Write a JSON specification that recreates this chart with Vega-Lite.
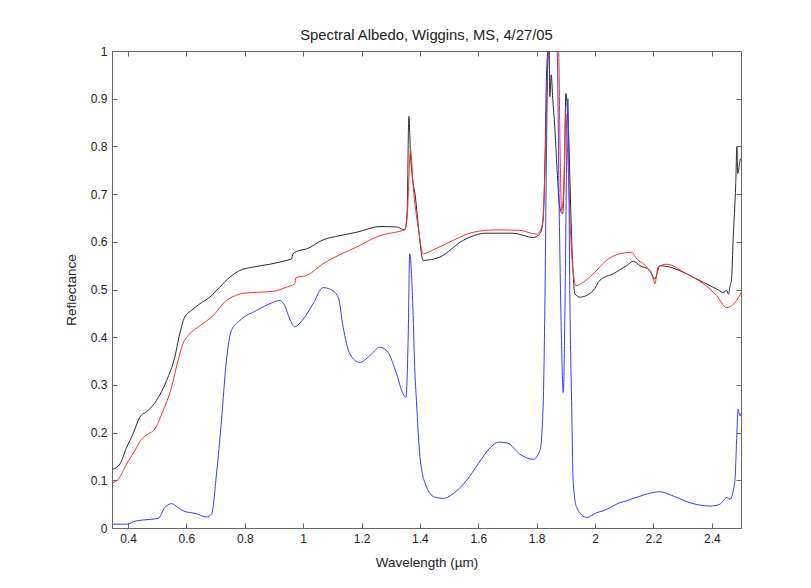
{
  "$schema": "https://vega.github.io/schema/vega-lite/v6.json",
  "width": 629,
  "height": 477,
  "autosize": {"type": "none"},
  "padding": {"left": 112, "top": 51, "right": 70, "bottom": 60},
  "background": "white",
  "title": {"text": "Spectral Albedo, Wiggins, MS, 4/27/05", "font": "Liberation Sans", "fontSize": 14.8, "fontWeight": "normal", "color": "#222", "offset": 2},
  "config": {
    "view": {"stroke": null},
    "axis": {"domainColor": "#666", "tickColor": "#666", "labelFont": "Liberation Sans", "labelFontSize": 12, "labelColor": "#222", "titleFont": "Liberation Sans", "titleFontSize": 13.5, "titleFontWeight": "normal", "titleColor": "#222", "grid": false, "tickSize": -5, "labelPadding": 10}
  },
  "data": {"values": [
    {"s":"k","w":0.347,"r":0.123},{"s":"k","w":0.372,"r":0.134},{"s":"k","w":0.395,"r":0.169},{"s":"k","w":0.417,"r":0.197},{"s":"k","w":0.44,"r":0.232},{"s":"k","w":0.468,"r":0.246},{"s":"k","w":0.497,"r":0.267},{"s":"k","w":0.532,"r":0.309},{"s":"k","w":0.56,"r":0.358},{"s":"k","w":0.577,"r":0.407},{"s":"k","w":0.594,"r":0.442},{"s":"k","w":0.617,"r":0.456},{"s":"k","w":0.646,"r":0.47},{"s":"k","w":0.68,"r":0.484},{"s":"k","w":0.714,"r":0.505},{"s":"k","w":0.749,"r":0.526},{"s":"k","w":0.783,"r":0.54},{"s":"k","w":0.828,"r":0.547},{"s":"k","w":0.886,"r":0.553},{"s":"k","w":0.943,"r":0.561},{"s":"k","w":0.96,"r":0.564},{"s":"k","w":0.965,"r":0.575},{"s":"k","w":0.988,"r":0.582},{"s":"k","w":1.011,"r":0.585},{"s":"k","w":1.068,"r":0.604},{"s":"k","w":1.126,"r":0.613},{"s":"k","w":1.183,"r":0.62},{"s":"k","w":1.263,"r":0.632},{"s":"k","w":1.32,"r":0.631},{"s":"k","w":1.348,"r":0.625},{"s":"k","w":1.356,"r":0.66},{"s":"k","w":1.362,"r":0.863},{"s":"k","w":1.368,"r":0.78},{"s":"k","w":1.377,"r":0.722},{"s":"k","w":1.383,"r":0.701},{"s":"k","w":1.395,"r":0.63},{"s":"k","w":1.411,"r":0.561},{"s":"k","w":1.43,"r":0.562},{"s":"k","w":1.468,"r":0.568},{"s":"k","w":1.548,"r":0.603},{"s":"k","w":1.628,"r":0.618},{"s":"k","w":1.719,"r":0.618},{"s":"k","w":1.788,"r":0.609},{"s":"k","w":1.811,"r":0.617},{"s":"k","w":1.822,"r":0.645},{"s":"k","w":1.828,"r":0.757},{"s":"k","w":1.834,"r":0.954},{"s":"k","w":1.839,"r":1.0},{"s":"k","w":1.843,"r":1.0},{"s":"k","w":1.845,"r":0.904},{"s":"k","w":1.85,"r":0.95},{"s":"k","w":1.855,"r":0.9},{"s":"k","w":1.862,"r":0.841},{"s":"k","w":1.87,"r":0.75},{"s":"k","w":1.879,"r":0.673},{"s":"k","w":1.889,"r":0.659},{"s":"k","w":1.895,"r":0.75},{"s":"k","w":1.9,"r":0.911},{"s":"k","w":1.905,"r":0.88},{"s":"k","w":1.908,"r":0.848},{"s":"k","w":1.92,"r":0.603},{"s":"k","w":1.931,"r":0.491},{"s":"k","w":1.948,"r":0.484},{"s":"k","w":1.994,"r":0.498},{"s":"k","w":2.016,"r":0.519},{"s":"k","w":2.062,"r":0.533},{"s":"k","w":2.108,"r":0.55},{"s":"k","w":2.131,"r":0.559},{"s":"k","w":2.154,"r":0.55},{"s":"k","w":2.188,"r":0.54},{"s":"k","w":2.205,"r":0.522},{"s":"k","w":2.222,"r":0.55},{"s":"k","w":2.256,"r":0.547},{"s":"k","w":2.313,"r":0.533},{"s":"k","w":2.371,"r":0.515},{"s":"k","w":2.417,"r":0.501},{"s":"k","w":2.439,"r":0.494},{"s":"k","w":2.451,"r":0.498},{"s":"k","w":2.457,"r":0.49},{"s":"k","w":2.462,"r":0.505},{"s":"k","w":2.468,"r":0.526},{"s":"k","w":2.473,"r":0.603},{"s":"k","w":2.482,"r":0.722},{"s":"k","w":2.486,"r":0.799},{"s":"k","w":2.489,"r":0.743},{"s":"k","w":2.497,"r":0.771},{"s":"k","w":2.5,"r":0.775},
    {"s":"r","w":0.347,"r":0.095},{"s":"r","w":0.366,"r":0.102},{"s":"r","w":0.395,"r":0.134},{"s":"r","w":0.423,"r":0.162},{"s":"r","w":0.446,"r":0.186},{"s":"r","w":0.469,"r":0.197},{"s":"r","w":0.491,"r":0.207},{"s":"r","w":0.52,"r":0.246},{"s":"r","w":0.549,"r":0.295},{"s":"r","w":0.571,"r":0.351},{"s":"r","w":0.588,"r":0.386},{"s":"r","w":0.611,"r":0.407},{"s":"r","w":0.646,"r":0.424},{"s":"r","w":0.691,"r":0.445},{"s":"r","w":0.737,"r":0.477},{"s":"r","w":0.76,"r":0.485},{"s":"r","w":0.794,"r":0.492},{"s":"r","w":0.84,"r":0.494},{"s":"r","w":0.897,"r":0.496},{"s":"r","w":0.943,"r":0.505},{"s":"r","w":0.971,"r":0.512},{"s":"r","w":0.975,"r":0.525},{"s":"r","w":1.011,"r":0.529},{"s":"r","w":1.068,"r":0.554},{"s":"r","w":1.183,"r":0.589},{"s":"r","w":1.263,"r":0.613},{"s":"r","w":1.331,"r":0.622},{"s":"r","w":1.348,"r":0.625},{"s":"r","w":1.356,"r":0.65},{"s":"r","w":1.368,"r":0.792},{"s":"r","w":1.377,"r":0.715},{"s":"r","w":1.394,"r":0.631},{"s":"r","w":1.411,"r":0.575},{"s":"r","w":1.445,"r":0.583},{"s":"r","w":1.514,"r":0.603},{"s":"r","w":1.582,"r":0.62},{"s":"r","w":1.662,"r":0.625},{"s":"r","w":1.742,"r":0.624},{"s":"r","w":1.8,"r":0.616},{"s":"r","w":1.817,"r":0.631},{"s":"r","w":1.825,"r":0.687},{"s":"r","w":1.831,"r":0.813},{"s":"r","w":1.837,"r":0.954},{"s":"r","w":1.84,"r":1.0},{"s":"r","w":1.875,"r":1.0},{"s":"r","w":1.88,"r":0.8},{"s":"r","w":1.885,"r":0.666},{"s":"r","w":1.892,"r":0.7},{"s":"r","w":1.9,"r":0.868},{"s":"r","w":1.905,"r":0.8},{"s":"r","w":1.92,"r":0.575},{"s":"r","w":1.931,"r":0.512},{"s":"r","w":1.934,"r":0.508},{"s":"r","w":1.959,"r":0.515},{"s":"r","w":1.994,"r":0.533},{"s":"r","w":2.039,"r":0.561},{"s":"r","w":2.085,"r":0.575},{"s":"r","w":2.125,"r":0.578},{"s":"r","w":2.142,"r":0.565},{"s":"r","w":2.177,"r":0.547},{"s":"r","w":2.2,"r":0.522},{"s":"r","w":2.205,"r":0.512},{"s":"r","w":2.216,"r":0.547},{"s":"r","w":2.245,"r":0.553},{"s":"r","w":2.313,"r":0.533},{"s":"r","w":2.371,"r":0.512},{"s":"r","w":2.417,"r":0.487},{"s":"r","w":2.451,"r":0.462},{"s":"r","w":2.468,"r":0.466},{"s":"r","w":2.485,"r":0.477},{"s":"r","w":2.5,"r":0.493},
    {"s":"b","w":0.347,"r":0.008},{"s":"b","w":0.395,"r":0.008},{"s":"b","w":0.429,"r":0.015},{"s":"b","w":0.474,"r":0.018},{"s":"b","w":0.503,"r":0.02},{"s":"b","w":0.526,"r":0.043},{"s":"b","w":0.549,"r":0.051},{"s":"b","w":0.571,"r":0.043},{"s":"b","w":0.588,"r":0.036},{"s":"b","w":0.634,"r":0.03},{"s":"b","w":0.669,"r":0.023},{"s":"b","w":0.686,"r":0.029},{"s":"b","w":0.703,"r":0.113},{"s":"b","w":0.72,"r":0.225},{"s":"b","w":0.737,"r":0.351},{"s":"b","w":0.754,"r":0.414},{"s":"b","w":0.783,"r":0.435},{"s":"b","w":0.84,"r":0.456},{"s":"b","w":0.897,"r":0.473},{"s":"b","w":0.92,"r":0.477},{"s":"b","w":0.937,"r":0.466},{"s":"b","w":0.954,"r":0.438},{"s":"b","w":0.971,"r":0.422},{"s":"b","w":1.0,"r":0.438},{"s":"b","w":1.034,"r":0.47},{"s":"b","w":1.068,"r":0.504},{"s":"b","w":1.091,"r":0.501},{"s":"b","w":1.12,"r":0.484},{"s":"b","w":1.137,"r":0.421},{"s":"b","w":1.16,"r":0.365},{"s":"b","w":1.194,"r":0.347},{"s":"b","w":1.228,"r":0.361},{"s":"b","w":1.263,"r":0.379},{"s":"b","w":1.291,"r":0.368},{"s":"b","w":1.32,"r":0.323},{"s":"b","w":1.342,"r":0.281},{"s":"b","w":1.352,"r":0.274},{"s":"b","w":1.36,"r":0.407},{"s":"b","w":1.365,"r":0.575},{"s":"b","w":1.375,"r":0.477},{"s":"b","w":1.382,"r":0.337},{"s":"b","w":1.388,"r":0.267},{"s":"b","w":1.4,"r":0.15},{"s":"b","w":1.42,"r":0.09},{"s":"b","w":1.45,"r":0.065},{"s":"b","w":1.48,"r":0.062},{"s":"b","w":1.52,"r":0.075},{"s":"b","w":1.56,"r":0.1},{"s":"b","w":1.6,"r":0.135},{"s":"b","w":1.64,"r":0.168},{"s":"b","w":1.67,"r":0.18},{"s":"b","w":1.7,"r":0.178},{"s":"b","w":1.742,"r":0.155},{"s":"b","w":1.788,"r":0.144},{"s":"b","w":1.811,"r":0.162},{"s":"b","w":1.822,"r":0.253},{"s":"b","w":1.828,"r":0.463},{"s":"b","w":1.834,"r":0.813},{"s":"b","w":1.839,"r":0.988},{"s":"b","w":1.845,"r":1.0},{"s":"b","w":1.87,"r":1.0},{"s":"b","w":1.877,"r":0.673},{"s":"b","w":1.885,"r":0.393},{"s":"b","w":1.891,"r":0.284},{"s":"b","w":1.897,"r":0.463},{"s":"b","w":1.902,"r":0.743},{"s":"b","w":1.907,"r":0.9},{"s":"b","w":1.914,"r":0.463},{"s":"b","w":1.92,"r":0.253},{"s":"b","w":1.925,"r":0.099},{"s":"b","w":1.937,"r":0.043},{"s":"b","w":1.971,"r":0.022},{"s":"b","w":2.005,"r":0.032},{"s":"b","w":2.028,"r":0.036},{"s":"b","w":2.085,"r":0.053},{"s":"b","w":2.108,"r":0.057},{"s":"b","w":2.165,"r":0.069},{"s":"b","w":2.222,"r":0.076},{"s":"b","w":2.268,"r":0.067},{"s":"b","w":2.325,"r":0.053},{"s":"b","w":2.394,"r":0.046},{"s":"b","w":2.428,"r":0.05},{"s":"b","w":2.451,"r":0.064},{"s":"b","w":2.462,"r":0.06},{"s":"b","w":2.479,"r":0.099},{"s":"b","w":2.486,"r":0.2},{"s":"b","w":2.49,"r":0.249},{"s":"b","w":2.497,"r":0.235},{"s":"b","w":2.5,"r":0.24}
  ]},
  "layer": [
    {
      "mark": {"type": "line", "strokeWidth": 1, "clip": true, "interpolate": "monotone"},
      "encoding": {
        "x": {"field": "w", "type": "quantitative", "scale": {"domain": [0.345, 2.5], "nice": false, "zero": false},
          "axis": {"orient": "bottom", "title": "Wavelength (µm)", "values": [0.4,0.6,0.8,1,1.2,1.4,1.6,1.8,2,2.2,2.4], "format": "~g", "titlePadding": 11}},
        "y": {"field": "r", "type": "quantitative", "scale": {"domain": [0, 1], "nice": false},
          "axis": {"orient": "left", "title": "Reflectance", "values": [0,0.1,0.2,0.3,0.4,0.5,0.6,0.7,0.8,0.9,1], "format": "~g", "titlePadding": 12}},
        "color": {"field": "s", "type": "nominal", "scale": {"domain": ["k","r","b"], "range": ["#2b2b2b","#ff3030","#3a3aff"]}, "legend": null},
        "order": {"field": "w", "type": "quantitative"}
      }
    },
    {
      "mark": {"type": "line", "opacity": 0},
      "encoding": {
        "x": {"field": "w", "type": "quantitative", "scale": {"domain": [0.345, 2.5], "nice": false, "zero": false},
          "axis": {"orient": "top", "title": null, "labels": false, "values": [0.4,0.6,0.8,1,1.2,1.4,1.6,1.8,2,2.2,2.4]}},
        "y": {"field": "r", "type": "quantitative", "scale": {"domain": [0, 1], "nice": false},
          "axis": {"orient": "right", "title": null, "labels": false, "values": [0,0.1,0.2,0.3,0.4,0.5,0.6,0.7,0.8,0.9,1]}},
        "detail": {"field": "s"}
      }
    }
  ],
  "resolve": {"axis": {"x": "independent", "y": "independent"}}
}
